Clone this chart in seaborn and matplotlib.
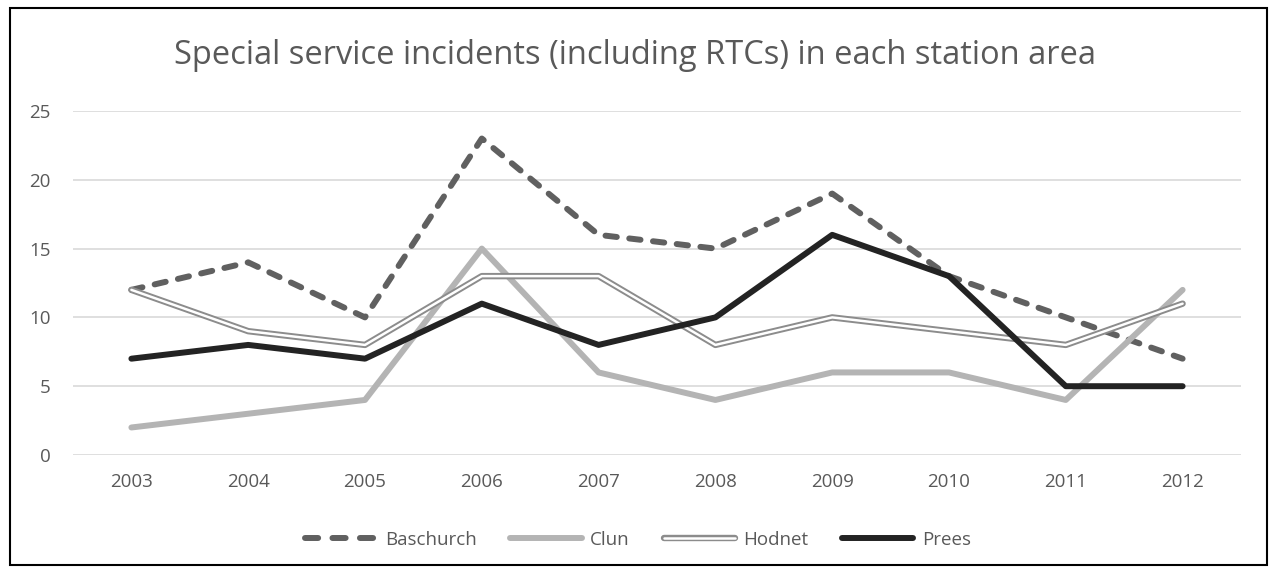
import matplotlib
matplotlib.use("Agg")
import matplotlib.pyplot as plt
import seaborn as sns
import pandas as pd
from matplotlib.lines import Line2D
from matplotlib.patches import Rectangle
import matplotlib.patheffects as pe

years = ["2003", "2004", "2005", "2006", "2007", "2008", "2009", "2010", "2011", "2012"]
baschurch = [12, 14, 10, 23, 16, 15, 19, 13, 10, 7]
clun = [2, 3, 4, 15, 6, 4, 6, 6, 4, 12]
hodnet = [12, 9, 8, 13, 13, 8, 10, 9, 8, 11]
prees = [7, 8, 7, 11, 8, 10, 16, 13, 5, 5]

sns.set_theme(style="white")
plt.rcParams['font.family'] = ['Open Sans', 'DejaVu Sans']

df = pd.DataFrame({"year": list(range(len(years))),
                   "Baschurch": baschurch, "Clun": clun,
                   "Hodnet": hodnet, "Prees": prees})

W, H = 1271, 570
fig = plt.figure(figsize=(W/100, H/100), dpi=100)
L, R, T, B = 73, 1241, 111, 455
ax = fig.add_axes([L/W, 1-B/H, (R-L)/W, (B-T)/H])

txt = "#595959"
LW = 4.3
c_b, c_c, c_h, c_p = "#606060", "#b4b4b4", "#8c8c8c", "#232323"
dash = [1.9, 2.1]
leg_dash = [2.2, 2.4]
hod_fx = [pe.Stroke(linewidth=4.6, foreground=c_h, capstyle="round"), pe.Normal()]

sns.lineplot(data=df, x="year", y="Baschurch", ax=ax, color=c_b, lw=LW)
ax.lines[-1].set_dashes(dash)
ax.lines[-1].set_dash_capstyle("round")
sns.lineplot(data=df, x="year", y="Clun", ax=ax, color=c_c, lw=LW,
             solid_capstyle="round")
sns.lineplot(data=df, x="year", y="Hodnet", ax=ax, color="white", lw=1.8,
             solid_capstyle="round", path_effects=hod_fx)
sns.lineplot(data=df, x="year", y="Prees", ax=ax, color=c_p, lw=LW,
             solid_capstyle="round")

ax.set_xlim(-0.5, len(years) - 0.5)
ax.set_ylim(0, 25)
ax.set_yticks([0, 5, 10, 15, 20, 25])
ax.set_xticks(range(len(years)))
ax.set_xticklabels(years)
ax.set_xlabel("")
ax.set_ylabel("")
ax.grid(axis="y", color="#d9d9d9", lw=1.2)
ax.set_axisbelow(True)
for s in ax.spines.values():
    s.set_visible(False)
ax.tick_params(axis="both", length=0, labelsize=13.5, colors=txt)
ax.tick_params(axis="x", pad=13)
ax.tick_params(axis="y", pad=16)

fig.text(0.5, 1-55/H, "Special service incidents (including RTCs) in each station area",
         ha="center", va="center", fontsize=23.5, color=txt)

h_b = Line2D([], [], color=c_b, lw=LW, dashes=leg_dash, dash_capstyle="round")
h_c = Line2D([], [], color=c_c, lw=LW)
h_h = Line2D([], [], color="white", lw=1.8, path_effects=hod_fx)
h_p = Line2D([], [], color=c_p, lw=LW)
leg = fig.legend([h_b, h_c, h_h, h_p], ["Baschurch", "Clun", "Hodnet", "Prees"],
                 loc="center", bbox_to_anchor=(638/W, 1-540/H), ncol=4, frameon=False,
                 fontsize=13.5, handlelength=3.8, columnspacing=1.8, handletextpad=0.45,
                 labelcolor=txt)

fig.add_artist(Rectangle((10/W, 1-565/H), (1267-10)/W, (565-8)/H, transform=fig.transFigure,
                         fill=False, edgecolor="black", lw=1.5))

fig.savefig("out.png", dpi=100)
